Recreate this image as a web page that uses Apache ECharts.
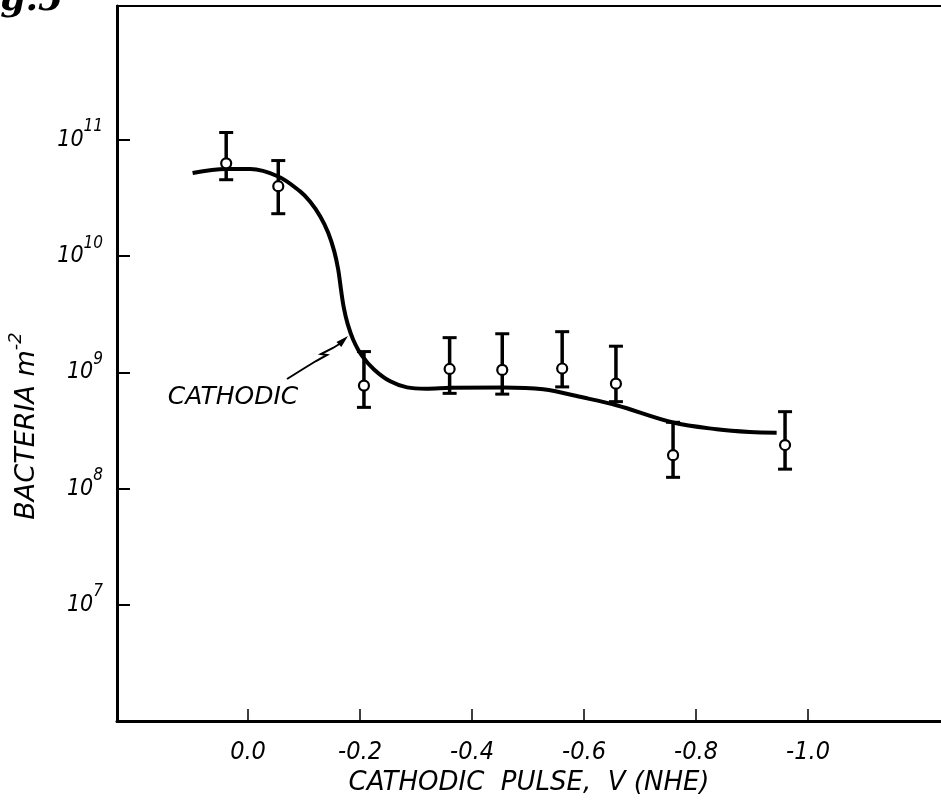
<!DOCTYPE html>
<html>
<head>
<meta charset="utf-8">
<script src="https://cdn.jsdelivr.net/npm/echarts@6/dist/echarts.min.js"></script>
<style>
html,body{margin:0;padding:0;background:#fff;width:941px;height:801px;overflow:hidden;}
#chart{position:absolute;left:0;top:0;width:941px;height:801px;}
</style>
</head>
<body>
<div id="chart"></div>
<script>
// ---- data ----
const voltPoints    = [0.039, -0.054, -0.207, -0.360, -0.454, -0.561, -0.657, -0.759, -0.959];
const bacteriaMean  = [6.3e10, 4.0e10, 7.7e8, 1.07e9, 1.05e9, 1.08e9, 8.0e8, 1.94e8, 2.37e8];
const bacteriaLow   = [4.55e10, 2.32e10, 5.0e8, 6.6e8, 6.5e8, 7.5e8, 5.6e8, 1.25e8, 1.47e8];
const bacteriaHigh  = [1.16e11, 6.65e10, 1.51e9, 1.99e9, 2.15e9, 2.24e9, 1.68e9, 3.72e8, 4.59e8];

const curveVolt     = [0.099, 0.039, -0.004, -0.054, -0.093, -0.111, -0.129, -0.143, -0.154, -0.161, -0.166, -0.171, -0.178, -0.188, -0.203, -0.225, -0.254, -0.284, -0.318, -0.361, -0.455, -0.527, -0.599, -0.658, -0.759, -0.837, -0.896, -0.944];
const curveBacteria = [5.2e10, 5.62e10, 5.62e10, 4.85e10, 3.61e10, 2.94e10, 2.2e10, 1.6e10, 1.1e10, 7.68e9, 5.16e9, 3.61e9, 2.6e9, 1.9e9, 1.4e9, 1.06e9, 8.37e8, 7.43e8, 7.24e8, 7.36e8, 7.43e8, 7.15e8, 6.07e8, 5.21e8, 3.7e8, 3.24e8, 3.07e8, 3.03e8];

const xTickValues = [0, -0.2, -0.4, -0.6, -0.8, -1.0];
const yTickValues = [1e7, 1e8, 1e9, 1e10, 1e11];

const xAxisTitle = 'CATHODIC  PULSE,  V (NHE)';
const yAxisTitle = 'BACTERIA';
const curveLabel = 'CATHODIC';
const figLabel = 'Fig.5';

// ---- chart ----
const NARROW = '"Liberation Sans Narrow","DejaVu Sans Condensed",sans-serif';
const SANS = '"DejaVu Sans","Liberation Sans",sans-serif';

const chart = echarts.init(document.getElementById('chart'), null, {renderer: 'canvas', width: 941, height: 801});

const curveData = curveVolt.map((v, i) => [v, curveBacteria[i]]);
const pointData = voltPoints.map((v, i) => [v, bacteriaMean[i]]);
const errData = voltPoints.map((v, i) => [v, bacteriaLow[i], bacteriaHigh[i]]);

const option = {
  backgroundColor: '#ffffff',
  animation: false,
  grid: {left: 117, right: 0, top: 6, bottom: 80, containLabel: false},
  xAxis: [{
    type: 'value',
    inverse: true,
    min: -1.2375,
    max: 0.234,
    position: 'bottom',
    splitLine: {show: false},
    axisLine: {show: true, onZero: false, lineStyle: {color: '#000', width: 3}},
    axisTick: {show: true, inside: true, length: 12, lineStyle: {color: '#000', width: 1.5}, customValues: xTickValues},
    axisLabel: {
      customValues: xTickValues,
      formatter: v => v.toFixed(1),
      color: '#000', fontFamily: NARROW, fontStyle: 'italic', fontSize: 25, margin: 19
    },
    name: xAxisTitle,
    nameLocation: 'middle',
    nameGap: 44,
    nameTextStyle: {color: '#000', fontFamily: SANS, fontStyle: 'italic', fontSize: 26}
  }, {
    type: 'value',
    inverse: true,
    min: -1.2375,
    max: 0.234,
    position: 'top',
    splitLine: {show: false},
    axisLine: {show: true, onZero: false, lineStyle: {color: '#000', width: 2}},
    axisTick: {show: false},
    axisLabel: {show: false}
  }],
  yAxis: {
    type: 'log',
    logBase: 10,
    min: 1e6,
    max: 1.422e12,
    splitLine: {show: false},
    minorTick: {show: false},
    axisLine: {show: true, onZero: false, lineStyle: {color: '#000', width: 3}},
    axisTick: {show: true, inside: true, length: 13, lineStyle: {color: '#000', width: 2}, customValues: yTickValues},
    axisLabel: {
      customValues: yTickValues,
      margin: 14,
      formatter: v => '{b|10}{s|' + Math.round(Math.log10(v)) + '}',
      rich: {
        b: {color: '#000', fontFamily: NARROW, fontStyle: 'italic', fontSize: 23},
        s: {color: '#000', fontFamily: NARROW, fontStyle: 'italic', fontSize: 17, padding: [0, 0, 26, 0]}
      }
    }
  },
  graphic: [
    {
      type: 'text', x: 27, y: 426, rotation: Math.PI / 2,
      style: {
        text: '{a|' + yAxisTitle + ' m}{s|-2}',
        align: 'center', verticalAlign: 'middle',
        rich: {
          a: {fill: '#000', fontFamily: SANS, fontStyle: 'italic', fontSize: 27},
          s: {fill: '#000', fontFamily: SANS, fontStyle: 'italic', fontSize: 18, padding: [0, 0, 22, 0]}
        }
      }
    },
    {
      type: 'text', x: 233, y: 397,
      style: {text: curveLabel, fill: '#000', font: 'italic 25px ' + SANS, align: 'center', verticalAlign: 'middle'}
    },
    {
      type: 'polyline',
      shape: {points: [[287, 379], [303, 369], [316, 361], [327, 355], [321, 354], [333, 348], [341, 343]]},
      style: {stroke: '#000', lineWidth: 2, fill: null}
    },
    {
      type: 'polygon',
      shape: {points: [[348, 336], [341.3, 347.1], [336.5, 341.9]]},
      style: {fill: '#000'}
    },
    {
      type: 'text', x: 63, y: 19,
      style: {text: figLabel, fill: '#000', font: 'bold italic 36px "DejaVu Serif", serif', align: 'right', verticalAlign: 'bottom'}
    }
  ],
  series: [
    {
      type: 'line',
      name: 'cathodic',
      data: curveData,
      smooth: 0.35,
      showSymbol: false,
      symbol: 'none',
      lineStyle: {color: '#000', width: 4},
      z: 2
    },
    {
      type: 'custom',
      name: 'error',
      data: errData,
      encode: {x: 0, y: [1, 2]},
      renderItem: (params, api) => {
        const x = api.value(0);
        const lo = api.coord([x, api.value(1)]);
        const hi = api.coord([x, api.value(2)]);
        const cap = 7;
        return {
          type: 'group',
          children: [
            {type: 'line', shape: {x1: lo[0], y1: lo[1], x2: hi[0], y2: hi[1]}, style: {stroke: '#000', lineWidth: 3.5}},
            {type: 'line', shape: {x1: lo[0] - cap, y1: lo[1], x2: lo[0] + cap, y2: lo[1]}, style: {stroke: '#000', lineWidth: 3}},
            {type: 'line', shape: {x1: hi[0] - cap, y1: hi[1], x2: hi[0] + cap, y2: hi[1]}, style: {stroke: '#000', lineWidth: 3}}
          ]
        };
      },
      z: 3
    },
    {
      type: 'scatter',
      name: 'points',
      data: pointData,
      symbol: 'circle',
      symbolSize: 10,
      itemStyle: {color: '#fff', borderColor: '#000', borderWidth: 2.2, opacity: 1},
      z: 4
    }
  ]
};
chart.setOption(option);
</script>
</body>
</html>
